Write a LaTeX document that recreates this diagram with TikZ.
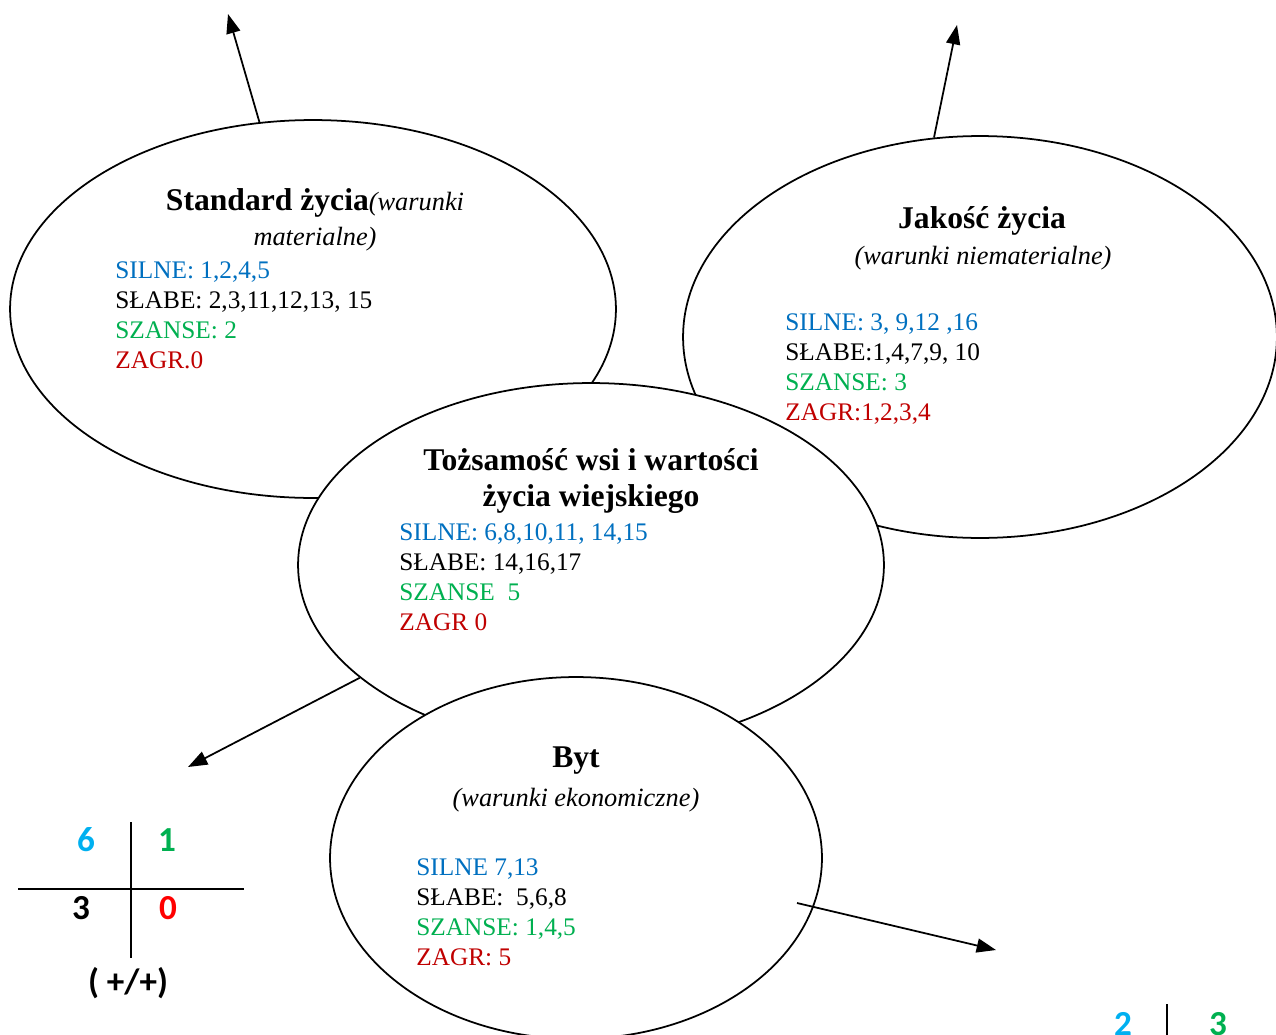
\documentclass[tikz,border=0pt]{standalone}
\usepackage{xcolor}
\usepackage{fontspec}
\setmainfont{Liberation Serif}
\newfontfamily\liczbyfont{Carlito}
\usepackage{tikz}
\usetikzlibrary{shapes,arrows,positioning,calc,arrows.meta}
\definecolor{silne}{HTML}{0070C0}
\definecolor{szanse}{HTML}{00B050}
\definecolor{zagr}{HTML}{C00000}
\definecolor{jasnyniebieski}{HTML}{00B0F0}
\definecolor{czerwony}{HTML}{FF0000}

\begin{document}
\begin{tikzpicture}[x=0.02cm, y=-0.02cm,
    krag/.style={ellipse, draw, fill=white, line width=1pt, inner sep=0pt},
    tytul/.style={anchor=base, font=\fontsize{18}{21}\selectfont\bfseries},
    podtytul/.style={anchor=base, font=\fontsize{15}{18}\selectfont\itshape},
    lista/.style={anchor=base west, align=left, inner sep=0pt, font=\fontsize{14.4}{17}\selectfont},
    liczba/.style={font=\liczbyfont\bfseries\fontsize{20}{23}\selectfont},
    strzalka/.style={-{Triangle[length=11pt,width=8pt]}, line width=1pt}]
    \useasboundingbox (0,0) rectangle (1276,1035);

    % ellipses
    \node [krag, minimum width=12.12cm, minimum height=7.56cm] (standard) at (313,309) {};
    \node [krag, minimum width=11.88cm, minimum height=8.04cm] (jakosc) at (980,337) {};
    \node [krag, minimum width=11.72cm, minimum height=7.28cm] (tozsamosc) at (591,565) {};
    \node [krag, minimum width=9.84cm, minimum height=7.24cm] (byt) at (576,858) {};

    % arrows
    \coordinate (stdOut) at (228,14);
    \coordinate (jakOut) at (957,25);
    \coordinate (tozOut) at (188,767);
    \coordinate (bytIn) at (797,903);
    \coordinate (bytOut) at (996,950);
    \draw [strzalka] (standard.106) -- (stdOut);
    \draw [strzalka] (jakosc.103) -- (jakOut);
    \draw [strzalka] (tozsamosc.206) -- (tozOut);
    \draw [strzalka] (bytIn) -- (bytOut);

    % Standard zycia
    \node [tytul] (stdT) at (315,210) {Standard życia{\mdseries\fontsize{15}{18}\selectfont\itshape(warunki}};
    \node [podtytul] (stdS) at (315,245) {materialne)};
    \node [lista] (stdL) at (115,368) {\textcolor{silne}{SILNE: 1,2,4,5}\\SŁABE: 2,3,11,12,13, 15\\\textcolor{szanse}{SZANSE: 2}\\\textcolor{zagr}{ZAGR.0}};

    % Jakosc zycia
    \node [tytul] (jakT) at (982,228) {Jakość życia};
    \node [podtytul] (jakS) at (983,264) {(warunki niematerialne)};
    \node [lista] (jakL) at (785,420) {\textcolor{silne}{SILNE: 3, 9,12 ,16}\\SŁABE:1,4,7,9, 10\\\textcolor{szanse}{SZANSE: 3}\\\textcolor{zagr}{ZAGR:1,2,3,4}};

    % Tozsamosc
    \node [tytul] (tozT) at (591,470) {Tożsamość wsi i wartości};
    \node [tytul] (tozS) at (591,506) {życia wiejskiego};
    \node [lista] (tozL) at (399,630) {\textcolor{silne}{SILNE: 6,8,10,11, 14,15}\\SŁABE: 14,16,17\\\textcolor{szanse}{SZANSE\ \ 5}\\\textcolor{zagr}{ZAGR 0}};

    % Byt
    \node [tytul] (bytT) at (576,767) {Byt};
    \node [podtytul] (bytS) at (576,806) {(warunki ekonomiczne)};
    \node [lista] (bytL) at (416,965) {\textcolor{silne}{SILNE 7,13}\\SŁABE:\ \ 5,6,8\\\textcolor{szanse}{SZANSE: 1,4,5}\\\textcolor{zagr}{ZAGR: 5}};

    % tabelka
    \draw [line width=1pt] (131,822) -- (131,958);
    \draw [line width=1pt] (18,889) -- (244,889);
    \node [liczba, text=jasnyniebieski] (q1) at (86,840) {6};
    \node [liczba, text=szanse] (q2) at (167,840) {1};
    \node [liczba] (q3) at (81,908) {3};
    \node [liczba, text=czerwony] (q4) at (168,908) {0};
    \node [liczba] (znak) at (128,983) {( +/+)};

    \draw [line width=1pt] (1167,1004) -- (1167,1040);
    \node [liczba, text=jasnyniebieski] (r1) at (1123,1024) {2};
    \node [liczba, text=szanse] (r2) at (1218,1024) {3};
\end{tikzpicture}
\end{document}
